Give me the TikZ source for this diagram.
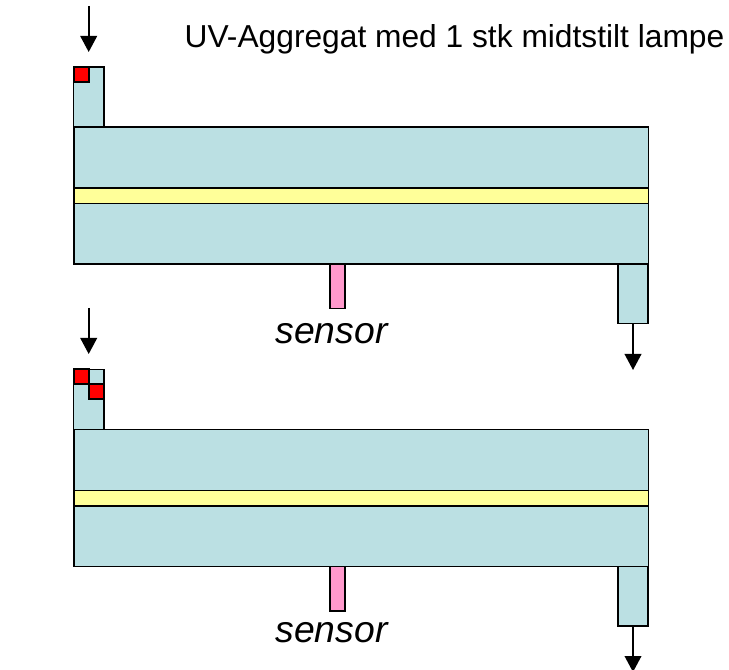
\documentclass[tikz,border=0pt]{standalone}
\usepackage{fontspec}
\setmainfont{Liberation Sans}
\usetikzlibrary{arrows.meta}
\definecolor{tank}{HTML}{BBE0E3}
\definecolor{lamp}{HTML}{FFFF99}
\definecolor{probe}{HTML}{FF99CC}
\begin{document}
\begin{tikzpicture}[x=0.75pt,y=-0.75pt,line width=1.25pt,>={Triangle[width=12.5pt,length=12pt]},
    box/.style={rectangle,draw,outer sep=0pt,inner sep=0pt},
    tankbox/.style={box,fill=tank},
    lampbox/.style={box,fill=lamp,minimum width=431pt,minimum height=11.6pt},
    valve/.style={box,fill=red,minimum size=11.2pt},
    stub/.style={tankbox,minimum width=22.8pt,minimum height=45pt},
    sensorbox/.style={box,fill=probe,minimum width=11.2pt,minimum height=34pt},
    label/.style={font=\fontsize{23.8}{28}\selectfont},
    slabel/.style={font=\fontsize{28}{32}\selectfont\itshape}]
    \useasboundingbox (0,0) rectangle (729,670);

    %upper unit
    \node (IN1) at (88.7,97)[stub]{};
    \node (OUT1) at (633,293.5)[stub]{};
    \node (S1) at (337.5,286)[sensorbox]{};
    \node (T1) at (361,195.5)[tankbox,minimum width=431pt,minimum height=102.8pt]{};
    \node (L1) at (361,195.7)[lampbox]{};
    \node (V1) at (81.3,74.5)[valve]{};

    %lower unit
    \node (IN2) at (88.7,399.5)[stub]{};
    \node (OUT2) at (633,596)[stub]{};
    \node (S2) at (337.5,588.5)[sensorbox]{};
    \node (T2) at (361,498)[tankbox,minimum width=431pt,minimum height=102.8pt]{};
    \node (L2) at (361,498.2)[lampbox]{};
    \node (V2) at (81.3,376.5)[valve]{};
    \node (V3) at (96.2,391.5)[valve]{};

    %texts
    \node (title) at (454.5,39)[label]{UV-Aggregat med 1 stk midtstilt lampe};
    \node (sensor1) at (331.5,333.5)[slabel]{sensor};
    \node (sensor2) at (331.5,632.5)[slabel]{sensor};

    %arrows
    \coordinate (A1) at (88.7,6);
    \coordinate (B1) at (88.7,52);
    \coordinate (A2) at (88.7,308);
    \coordinate (B2) at (88.7,354);
    \coordinate (C1) at (633,370);
    \coordinate (C2) at (633,672);
    \draw [->] (A1) to (B1);
    \draw [->] (A2) to (B2);
    \draw [->] (OUT1.south) to (C1);
    \draw [->] (OUT2.south) to (C2);
\end{tikzpicture}
\end{document}
